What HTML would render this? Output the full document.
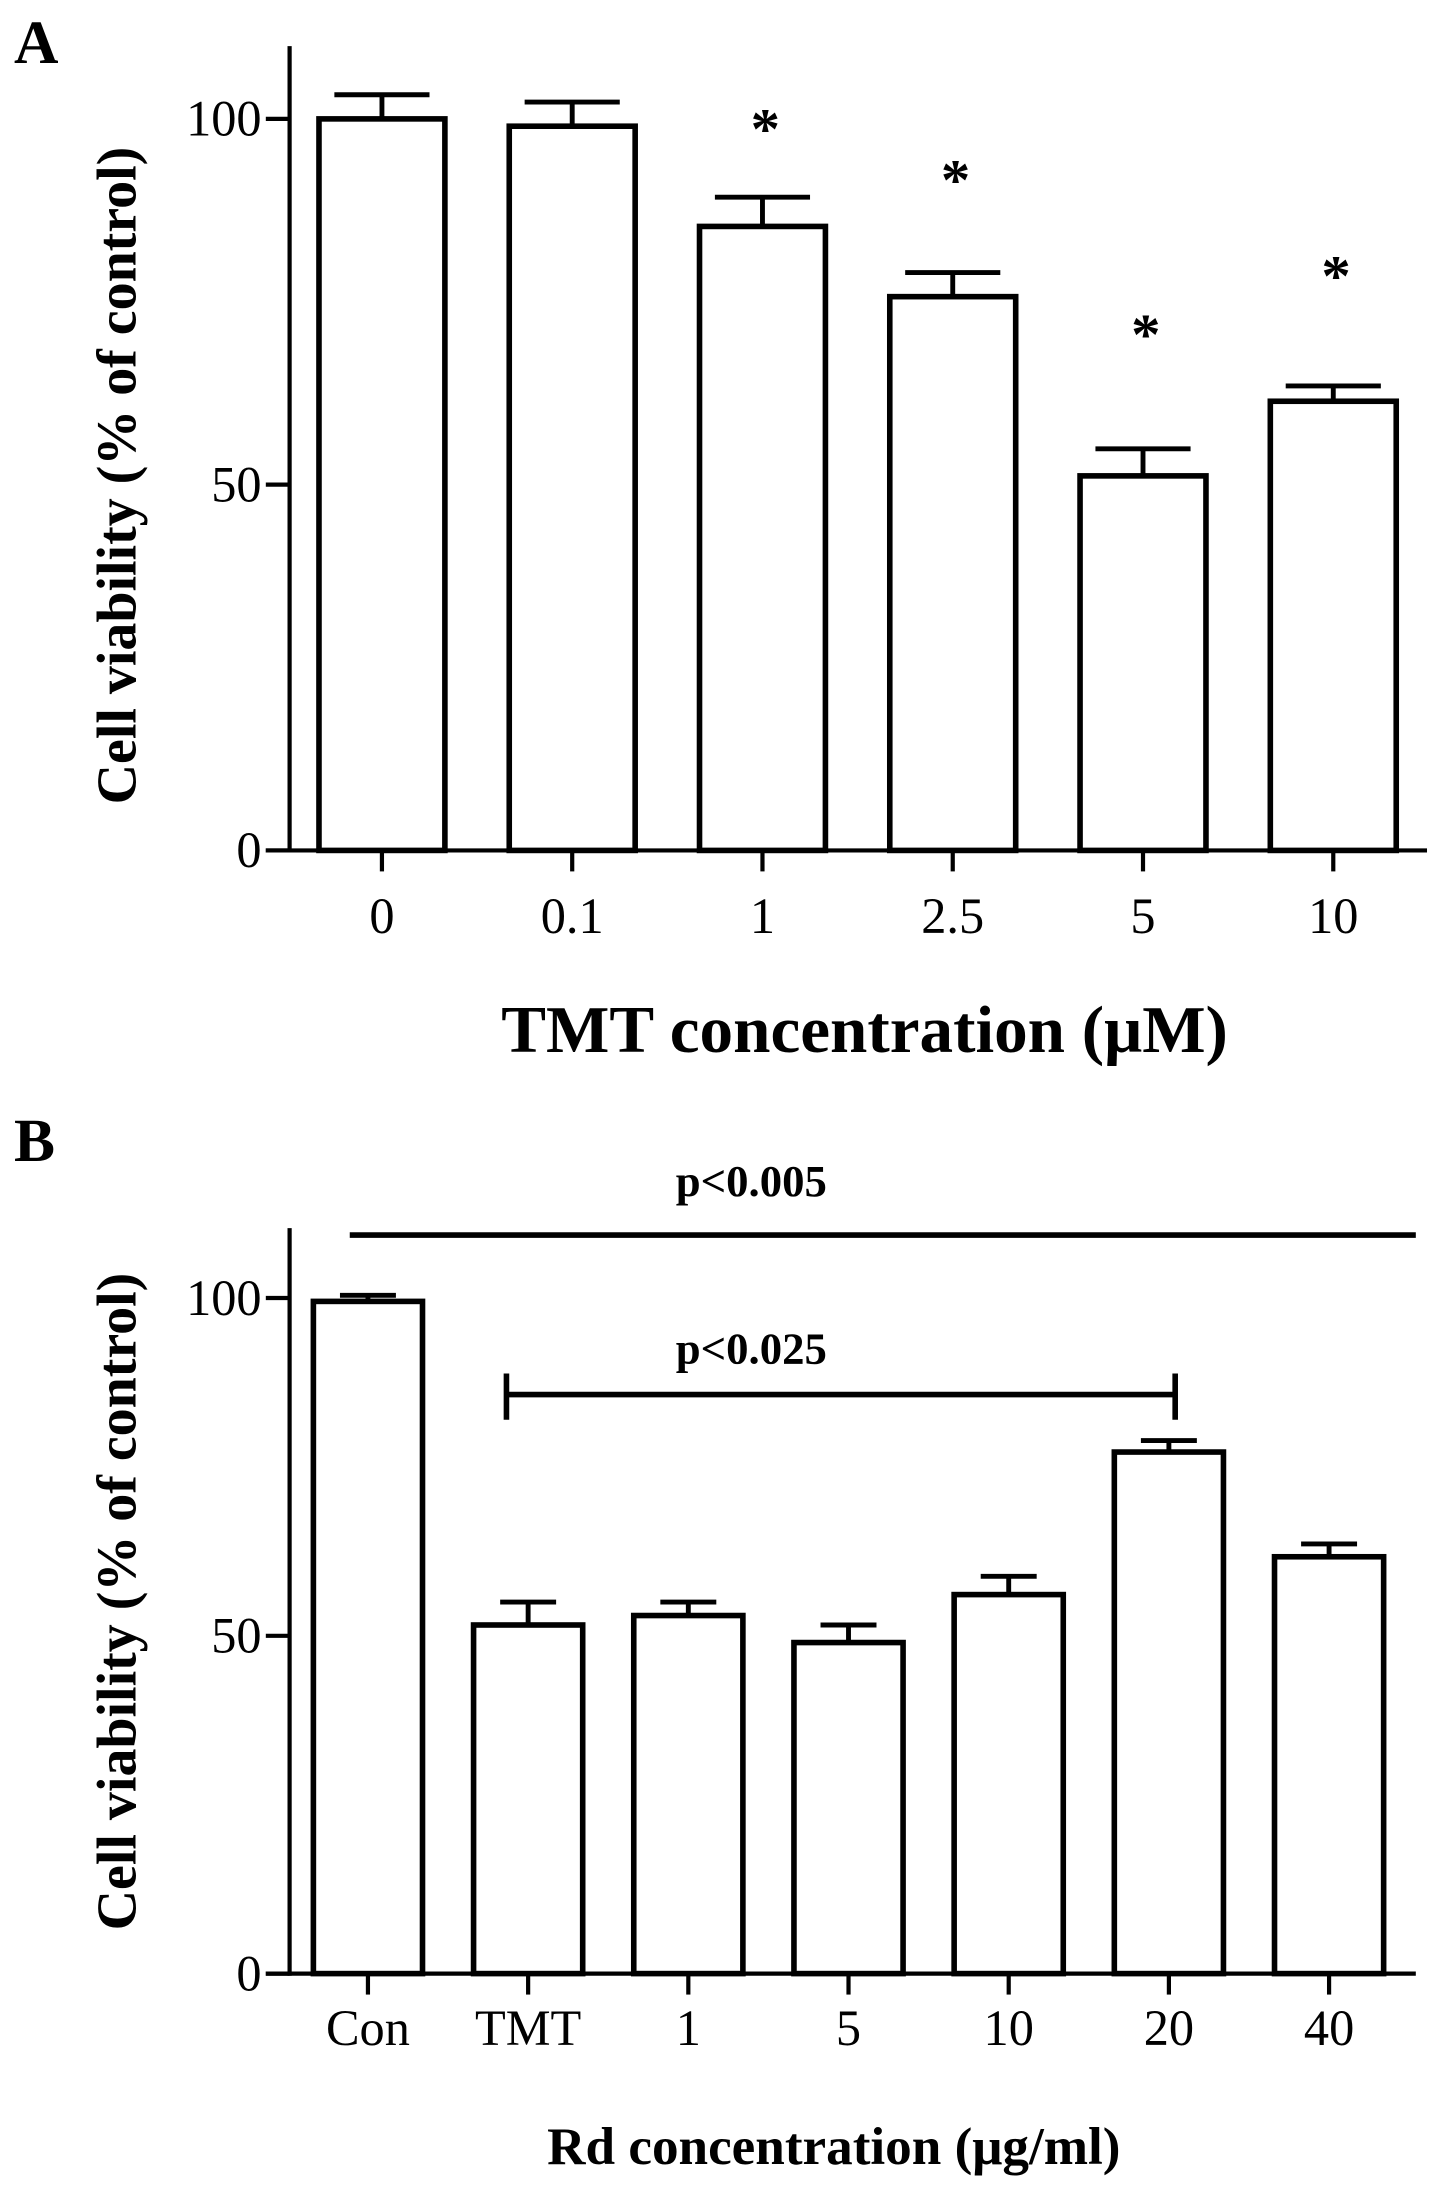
<!DOCTYPE html>
<html><head><meta charset="utf-8"><style>
html,body{margin:0;padding:0;background:#fff}
svg{display:block}
text{font-family:"Liberation Serif",serif;fill:#000}
</style></head><body>
<svg id="fig" width="1441" height="2189" viewBox="0 0 1030 1565" preserveAspectRatio="none"></svg>
<script>
const catsA=["0","0.1","1","2.5","5","10"];
const valsA=[100,99,85.3,75.7,51.2,61.4];
const errA=[3.3,3.3,4,3.3,3.7,2.1];
const starA=[null,null,99.4,92.4,71.3,79.3];
const ticksA=[0,50,100];
const catsB=["Con","TMT","1","5","10","20","40"];
const valsB=[99.5,51.6,53,49,56.1,77.2,61.7];
const errB=[0.9,3.4,2,2.6,2.7,1.7,1.9];
const ticksB=[0,50,100];
const NS="http://www.w3.org/2000/svg";
const svg=document.getElementById('fig');
function mk(tag,attrs,parent){const e=document.createElementNS(NS,tag);for(const k in attrs)e.setAttribute(k,attrs[k]);(parent||svg).appendChild(e);return e;}
function line(x1,y1,x2,y2,w,name){const l=mk('line',{x1,y1,x2,y2,stroke:'#000','stroke-width':w});

return l;}
function txt(x,y,s,size,bold,anchor,name){const t=mk('text',{x,y,'font-size':size,'font-weight':bold?'bold':'normal','text-anchor':anchor||'middle'});t.textContent=s;

return t;}

function panel(o){
  const y=v=>o.y0-(v/100)*(o.y0-o.y100);
  const x=i=>o.x0c+i*o.dx;
  line(o.ax,o.top,o.ax,o.y0+1.5,3,'y-axis');
  line(o.ax-17,o.y0,o.xend,o.y0,3,'x-axis');
  o.ticks.forEach(t=>{line(o.ax-17,y(t),o.ax,y(t),3,'y-tick');
    txt(o.ax-20,y(t)+12,String(t),36,false,'end','y-tick-label');});
  o.cats.forEach((c,i)=>{
    const cx=x(i),v=o.vals[i],e=o.errs[i];
    line(cx,y(v),cx,y(v+e),3.5,'error-bar');
    line(cx-o.cap,y(v+e),cx+o.cap,y(v+e),3.5,'error-cap');
    const r=mk('rect',{x:cx-o.bw/2,y:y(v),width:o.bw,height:o.y0-y(v),fill:'#fff',stroke:'#000','stroke-width':4});
    
    
    line(cx,o.y0,cx,o.y0+15,3,'x-tick');
    txt(cx,o.labY,c,36,false,'middle','x-tick-label');
    if(o.stars&&o.stars[i]!=null) txt(cx+2,y(o.stars[i])+18,'*',42,true,'middle','significance-star');
  });
}
// Panel A
panel({ax:207,top:33,y0:608,y100:85,x0c:273,dx:136,xend:1020,bw:90,cap:34,cats:catsA,vals:valsA,errs:errA,stars:starA,ticks:ticksA,labY:667});
txt(10,45,'A',44,true,'start','panel-label-a');
let t=txt(0,0,'Cell viability (% of control)',40,true,'middle','y-axis-title-a');t.setAttribute('transform','translate(97,340) rotate(-90)');
txt(618,752,'TMT concentration (μM)',48,true,'middle','x-axis-title-a');
// Panel B
panel({ax:207,top:878,y0:1411,y100:928,x0c:263,dx:114.5,xend:1012,bw:78,cap:20,cats:catsB,vals:valsB,errs:errB,ticks:ticksB,labY:1462});
txt(10,830,'B',44,true,'start','panel-label-b');
t=txt(0,0,'Cell viability (% of control)',40,true,'middle','y-axis-title-b');t.setAttribute('transform','translate(97,1145) rotate(-90)');
txt(596,1547,'Rd concentration (μg/ml)',38,true,'middle','x-axis-title-b');
line(250,883,1012,883,4,'significance-line-p005');
txt(537,855,'p<0.005',32,true,'middle','significance-label-p005');
line(362,997,840,997,4,'significance-bracket-p025');
line(362,982,362,1015,4,'bracket-end-left');
line(840,982,840,1015,4,'bracket-end-right');
txt(537,975,'p<0.025',32,true,'middle','significance-label-p025');
</script>
</body></html>
